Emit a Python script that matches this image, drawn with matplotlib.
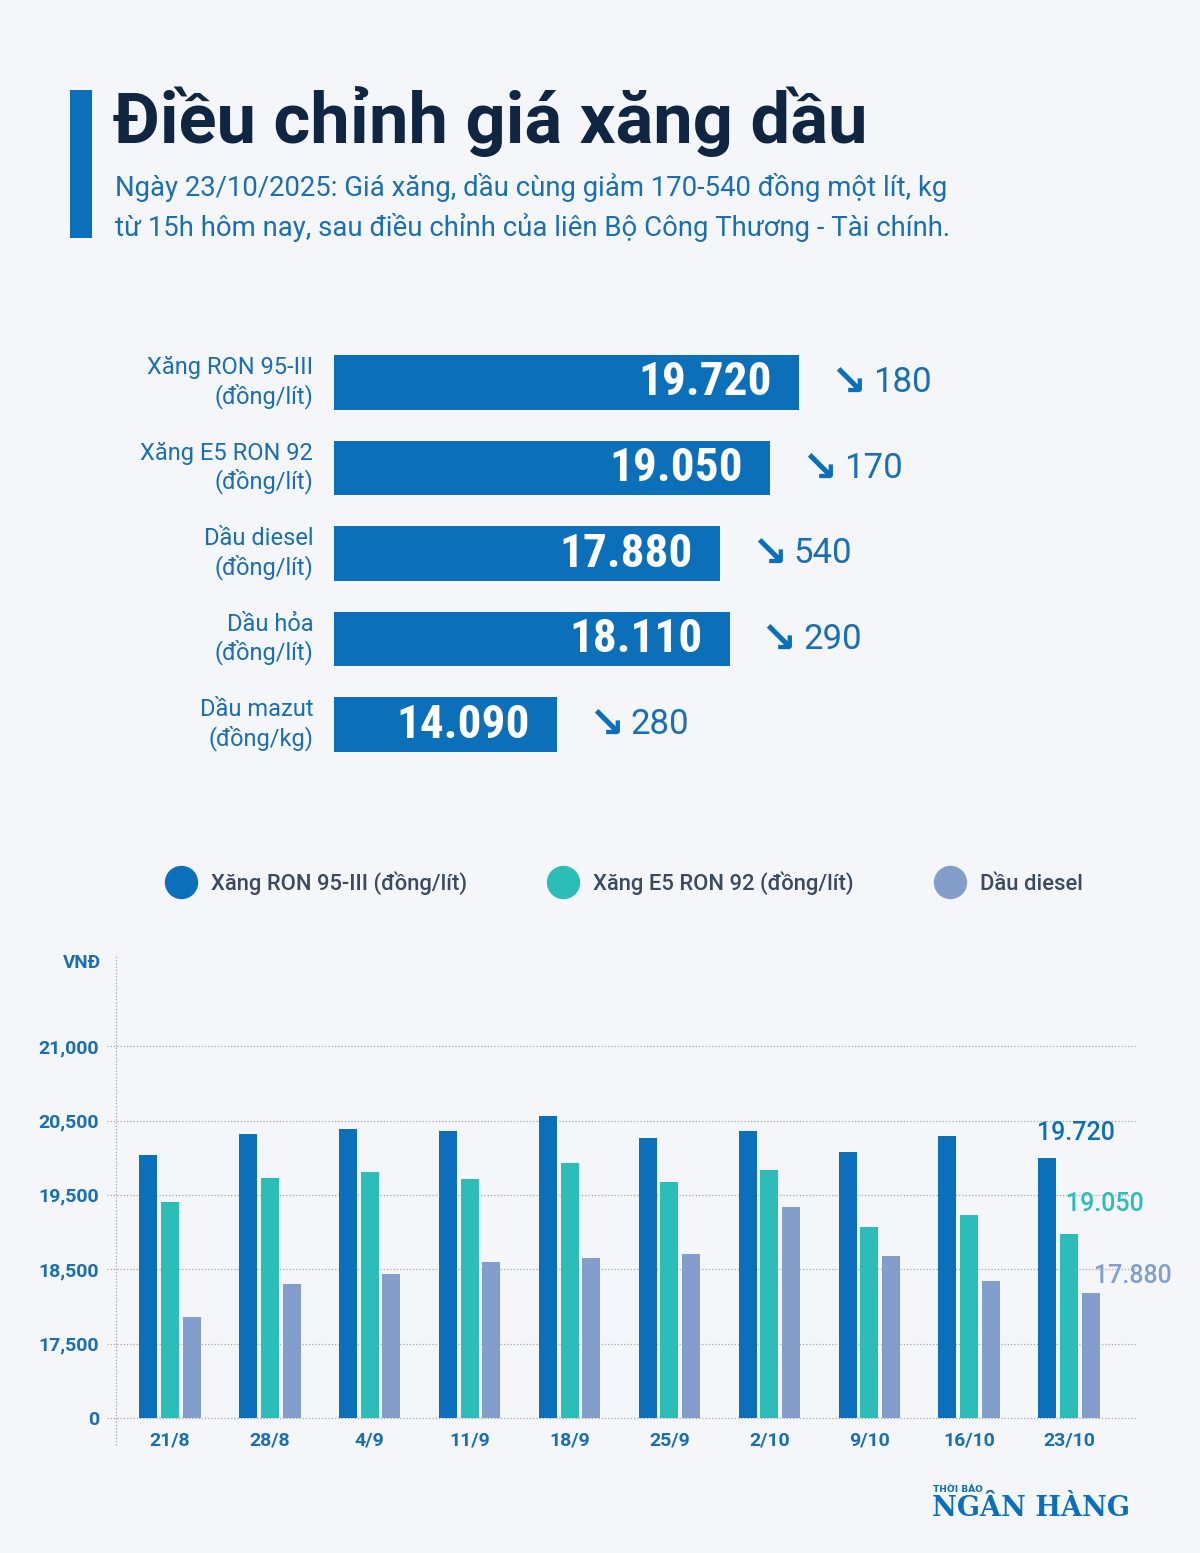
import numpy as np
import matplotlib
matplotlib.use('Agg')
import matplotlib.pyplot as plt
from matplotlib.lines import Line2D
from matplotlib.patches import Rectangle

# gia ban le moi nhat (23/10/2025)
fuel_names = ['Xăng RON 95-III\n(đồng/lít)', 'Xăng E5 RON 92\n(đồng/lít)',
              'Dầu diesel\n(đồng/lít)', 'Dầu hỏa\n(đồng/lít)', 'Dầu mazut\n(đồng/kg)']
fuel_prices = [19720, 19050, 17880, 18110, 14090]
fuel_drops = [180, 170, 540, 290, 280]

# lich su cac ky dieu chinh
dates = ['21/8', '28/8', '4/9', '11/9', '18/9', '25/9', '2/10', '9/10', '16/10', '23/10']
ron95 = [20040, 20320, 20390, 20360, 20530, 20270, 20360, 20080, 20290, 19990]
e5 = [19410, 19730, 19810, 19710, 19930, 19680, 19840, 19070, 19230, 18970]
diesel = [17860, 18300, 18430, 18600, 18650, 18710, 19340, 18680, 18340, 18180]
series_names = ['Xăng RON 95-III (đồng/lít)', 'Xăng E5 RON 92 (đồng/lít)', 'Dầu diesel']
y_ticks = [0, 17500, 18500, 19500, 20500, 21000]

BG = '#f4f6f9'
BLUE = '#0b70b9'
TEAL = '#2dbdb9'
LILAC = '#849ecb'
TXT = '#1a6fb3'
NAVY = '#0f2542'
FONT = ['Roboto', 'DejaVu Sans']
COND = ['Roboto Condensed', 'Roboto', 'DejaVu Sans']

plt.rcParams['font.family'] = FONT

fig = plt.figure(figsize=(12, 15.53), dpi=100, facecolor=BG)

def fx(px):
    return px / 1200

def fy(py):
    return 1 - py / 1553

# header
fig.patches.append(Rectangle((fx(70), fy(238)), fx(22), 148 / 1553, transform=fig.transFigure,
                             color=BLUE, lw=0))
fig.text(fx(113), fy(143), 'Điều chỉnh giá xăng dầu', fontsize=50.8, fontweight='bold',
         color=NAVY, va='baseline')
fig.text(fx(115), fy(188), 'Ngày 23/10/2025: Giá xăng, dầu cùng giảm 170-540 đồng một lít, kg',
         fontsize=19.8, color=TXT, va='center')
fig.text(fx(115), fy(227), 'từ 15h hôm nay, sau điều chỉnh của liên Bộ Công Thương - Tài chính.',
         fontsize=19.8, color=TXT, va='center')

# gia moi - thanh ngang
ax1 = fig.add_axes([fx(334), fy(780), 766 / 1200, 450 / 1553])
ax1.set_facecolor(BG)
rows = np.arange(len(fuel_prices))
ax1.barh(rows, fuel_prices, height=0.643, color=BLUE)
ax1.set_xlim(8896, 26718)
ax1.set_ylim(4.649, -0.614)
ax1.axis('off')
for i, (p, d) in enumerate(zip(fuel_prices, fuel_drops)):
    ax1.annotate(f'{p:,}'.replace(',', '.'), xy=(p, i), xytext=(-20, 0),
                 textcoords='offset points', ha='right', va='center',
                 color='white', fontsize=34, fontweight='semibold', family=COND)
    ax1.annotate('↘', xy=(p, i), xytext=(22, -1), textcoords='offset points',
                 ha='left', va='center', color=BLUE, fontsize=31, fontweight='bold',
                 family='DejaVu Sans')
    ax1.annotate(str(d), xy=(p, i), xytext=(53, 0), textcoords='offset points',
                 ha='left', va='center', color=TXT, fontsize=25)
    ax1.annotate(fuel_names[i], xy=(0, i), xycoords=ax1.get_yaxis_transform(),
                 xytext=(-15, 0), textcoords='offset points', ha='right', va='center',
                 multialignment='right', color=TXT, fontsize=17, linespacing=1.2)

# lich su - cot nhom
vals_map = [0, 17500, 18500, 19500, 20500, 21000, 21500, 22000]
pos_map = [0, 1, 2, 3, 4, 5, 6, 7]

def fwd(v):
    return np.interp(v, vals_map, pos_map)

def inv(p):
    return np.interp(p, pos_map, vals_map)

ax2 = fig.add_axes([fx(116), fy(1418), 1019 / 1200, 464 / 1553])
ax2.set_facecolor(BG)
ax2.set_yscale('function', functions=(fwd, inv))
ax2.set_ylim(0, 21620)
ax2.set_xlim(-0.54, 9.66)

x = np.arange(len(dates))
w = 0.18
off = 0.217
colors = [BLUE, TEAL, LILAC]
for k, s in enumerate([ron95, e5, diesel]):
    ax2.bar(x + (k - 1) * off, s, width=w, color=colors[k], zorder=3)

for v in y_ticks:
    ax2.axhline(v, xmin=-0.009, xmax=1, clip_on=False, color='#a3a9b1', lw=0.9,
                ls=(0, (1, 1.6)), zorder=1)
ax2.plot([0, 0], [-0.058, 1], transform=ax2.transAxes, clip_on=False,
         color='#a3a9b1', lw=0.9, ls=(0, (1, 1.6)))
for sp in ax2.spines.values():
    sp.set_visible(False)
ax2.set_yticks(y_ticks)
ax2.set_yticklabels([f'{v:,}' for v in y_ticks])
ax2.yaxis.set_minor_locator(matplotlib.ticker.NullLocator())
ax2.set_xticks(x)
ax2.set_xticklabels(dates)
ax2.tick_params(axis='y', length=0, pad=12, labelsize=14, labelcolor=TXT)
ax2.tick_params(axis='x', length=0, pad=10, labelsize=14, labelcolor=TXT)
for lab in ax2.get_xticklabels() + ax2.get_yticklabels():
    lab.set_fontweight('bold')
ax2.text(-0.015, 1.0, 'VNĐ', transform=ax2.transAxes, ha='right', va='top',
         color=TXT, fontsize=13.5, fontweight='bold')

# nhan gia moi nhat
last = len(dates) - 1
lab_off = [(-1, 18), (4, 22), (9, 12)]
for k, s in enumerate([ron95, e5, diesel]):
    ax2.annotate(f'{fuel_prices[k]:,}'.replace(',', '.'),
                 xy=(last + (k - 1) * off - w / 2, s[last]), xytext=lab_off[k],
                 textcoords='offset points', ha='left', va='center',
                 color=colors[k], fontsize=18, fontweight='medium')

handles = [Line2D([], [], marker='o', ls='', markersize=23, color=c) for c in colors]
ax2.legend(handles, series_names, loc='center', bbox_to_anchor=(0.522, fy(883)),
           bbox_transform=fig.transFigure, ncol=3, frameon=False, handlelength=1.0,
           handletextpad=0.85, columnspacing=3.9,
           prop={'size': 15.8, 'weight': 'medium'}, labelcolor='#3b4a5f')

# logo
fig.text(fx(933), fy(1489), 'THỜI BÁO', fontsize=6.5, fontweight='bold', color=BLUE,
         va='center', family='DejaVu Sans')
fig.text(fx(932), fy(1509), 'NGÂN HÀNG', fontsize=19.5, fontweight='bold', color=BLUE,
         va='center', family='DejaVu Serif')

fig.savefig('out.png', dpi=100, facecolor=BG)
